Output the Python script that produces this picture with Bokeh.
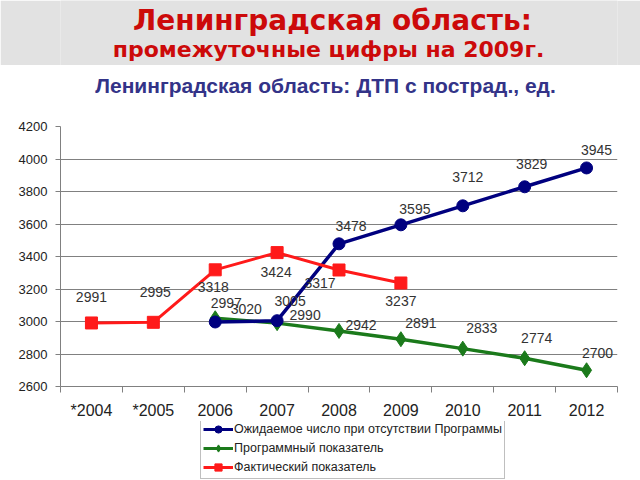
from bokeh.plotting import figure
from bokeh.models import (Range1d, FixedTicker, Label, Legend, LegendItem,
                          ColumnDataSource, LabelSet)
from bokeh.layouts import column
from bokeh.core.properties import value
from bokeh.embed import file_html
from bokeh.resources import INLINE

categories = ["*2004", "*2005", "2006", "2007", "2008", "2009", "2010", "2011", "2012"]

expected_years = ["2006", "2007", "2008", "2009", "2010", "2011", "2012"]
expected_vals = [2997, 3005, 3478, 3595, 3712, 3829, 3945]

program_years = ["2006", "2007", "2008", "2009", "2010", "2011", "2012"]
program_vals = [3020, 2990, 2942, 2891, 2833, 2774, 2700]

actual_years = ["*2004", "*2005", "2006", "2007", "2008", "2009"]
actual_vals = [2991, 2995, 3318, 3424, 3317, 3237]

y_ticks = [2600, 2800, 3000, 3200, 3400, 3600, 3800, 4000, 4200]

series_names = ["Ожидаемое число при отсутствии Программы", "Программный показатель", "Фактический показатель"]

# label offsets (pixels) - styling only
expected_dx = [11, 13, 12, 14, 5, 7, 10]
expected_dy = [-19, -20, -18, -16, -29, -23, -18]
program_dx = [31, 28, 22, 20, 19, 12, 11]
program_dy = [-9, -8, -6, -16, -21, -20, -17]
actual_dx = [0, 2, -2, -1, -19, 0]
actual_dy = [-26, -30, 17, 19, 13, 18]

FONT = "Liberation Sans"
BLUE = "#00007f"
GREEN = "#1b7a1b"
RED = "#ff1a1a"
BG = "#e2e2e2"
BL, BR = 60, 23  # common frame borders (left, right)

pos = {c: i + 0.5 for i, c in enumerate(categories)}


def strip_fig(height, fill):
    f = figure(width=640, height=height, output_backend="svg", toolbar_location=None,
               x_range=Range1d(BL, 640 - BR), y_range=Range1d(height, 0),
               min_border_left=BL, min_border_right=BR, min_border_top=0, min_border_bottom=0,
               title=None)
    f.axis.visible = False
    f.grid.visible = False
    f.outline_line_color = None
    f.background_fill_color = fill
    f.border_fill_color = fill
    return f


# ---- slide header ----
h1 = strip_fig(65, BG)
h1.add_layout(Label(x=332, y=20, text="Ленинградская область:",
                    text_font="DejaVu Sans", text_font_style="bold", text_font_size="28px",
                    text_color="#cc0a0a", text_align="center", text_baseline="middle"))
h1.add_layout(Label(x=328, y=49, text="промежуточные цифры на 2009г.",
                    text_font="DejaVu Sans", text_font_style="bold", text_font_size="22px",
                    text_color="#cc0a0a", text_align="center", text_baseline="middle"))

# ---- chart title ----
h2 = strip_fig(35, "white")
h2.add_layout(Label(x=325, y=20, text="Ленинградская область: ДТП с пострад., ед.",
                    text_font=FONT, text_font_style="bold", text_font_size="21px",
                    text_color="#333388", text_align="center", text_baseline="middle"))

# ---- main chart ----
p = figure(width=640, height=321, output_backend="svg", toolbar_location=None,
           x_range=Range1d(0, len(categories)), y_range=Range1d(y_ticks[0], y_ticks[-1]),
           min_border_left=BL, min_border_right=BR, min_border_top=26, min_border_bottom=34,
           title=None)
p.border_fill_color = "white"
p.background_fill_color = "white"
p.outline_line_color = None

p.yaxis.ticker = FixedTicker(ticks=y_ticks)
p.yaxis.axis_line_color = "#808080"
p.yaxis.major_tick_line_color = "#808080"
p.yaxis.major_tick_out = 5
p.yaxis.major_tick_in = 0
p.yaxis.minor_tick_line_color = None
p.yaxis.major_label_standoff = 8
p.yaxis.major_label_text_font = FONT
p.yaxis.major_label_text_font_size = "13px"
p.yaxis.major_label_text_color = "#222222"

centers = [i + 0.5 for i in range(len(categories))]
bounds = [float(i) for i in range(len(categories) + 1)]
p.xaxis.ticker = FixedTicker(ticks=centers, minor_ticks=bounds)
p.xaxis.major_label_overrides = {c: lab for c, lab in zip(centers, categories)}
p.xaxis.axis_line_color = "#808080"
p.xaxis.major_tick_line_color = None
p.xaxis.major_tick_out = 0
p.xaxis.major_tick_in = 0
p.xaxis.minor_tick_line_color = "#808080"
p.xaxis.minor_tick_out = 6
p.xaxis.minor_tick_in = 0
p.xaxis.major_label_standoff = 9
p.xaxis.major_label_text_font = FONT
p.xaxis.major_label_text_font_size = "16px"
p.xaxis.major_label_text_color = "#222222"

p.xgrid.visible = False
p.ygrid.ticker = FixedTicker(ticks=y_ticks[1:-1])
p.ygrid.grid_line_color = "#808080"
p.ygrid.grid_line_width = 1

STYLE = {
    "expected": dict(color=BLUE, marker="circle", size=12, lw=3.5),
    "program": dict(color=GREEN, marker="diamond", size=15, lw=3.5),
    "actual": dict(color=RED, marker="square", size=12, lw=3),
}


def series(years, vals, dx, dy, st):
    src = ColumnDataSource(dict(x=[pos[y] for y in years], y=vals,
                                t=[str(v) for v in vals], dx=dx, dy=[-d for d in dy]))
    p.line("x", "y", source=src, line_color=st["color"], line_width=st["lw"])
    p.scatter("x", "y", source=src, marker=st["marker"], size=st["size"],
              fill_color=st["color"], line_color=st["color"])
    p.add_layout(LabelSet(x="x", y="y", text="t", x_offset="dx", y_offset="dy", source=src,
                          text_font=value(FONT), text_font_size="14px", text_color="#333333",
                          text_align="center", text_baseline="middle"))


series(program_years, program_vals, program_dx, program_dy, STYLE["program"])
series(expected_years, expected_vals, expected_dx, expected_dy, STYLE["expected"])
series(actual_years, actual_vals, actual_dx, actual_dy, STYLE["actual"])

# ---- legend strip (proxy glyphs kept outside the visible range) ----
lf = strip_fig(59, "white")
items = []
for name, key in zip(series_names, ["expected", "program", "actual"]):
    st = STYLE[key]
    proxy = ColumnDataSource(dict(x=[-500, -400], y=[-500, -500]))
    ln = lf.line("x", "y", source=proxy, line_color=st["color"], line_width=3)
    sc = lf.scatter("x", "y", source=proxy, marker=st["marker"], size=7,
                    fill_color=st["color"], line_color=st["color"])
    items.append(LegendItem(label=name, renderers=[ln, sc]))

legend = Legend(items=items, location=(140, 1))
legend.label_text_font = FONT
legend.label_text_font_size = "12.5px"
legend.label_text_color = "#222222"
legend.border_line_color = "#808080"
legend.border_line_width = 1
legend.background_fill_alpha = 1.0
legend.padding = 2
legend.spacing = 1
legend.label_height = 18
legend.glyph_height = 18
legend.glyph_width = 30
legend.label_standoff = 1
legend.margin = 0
lf.add_layout(legend, "center")

layout = column(h1, h2, p, lf, spacing=0)
open("out.html", "w").write(file_html(layout, INLINE))
